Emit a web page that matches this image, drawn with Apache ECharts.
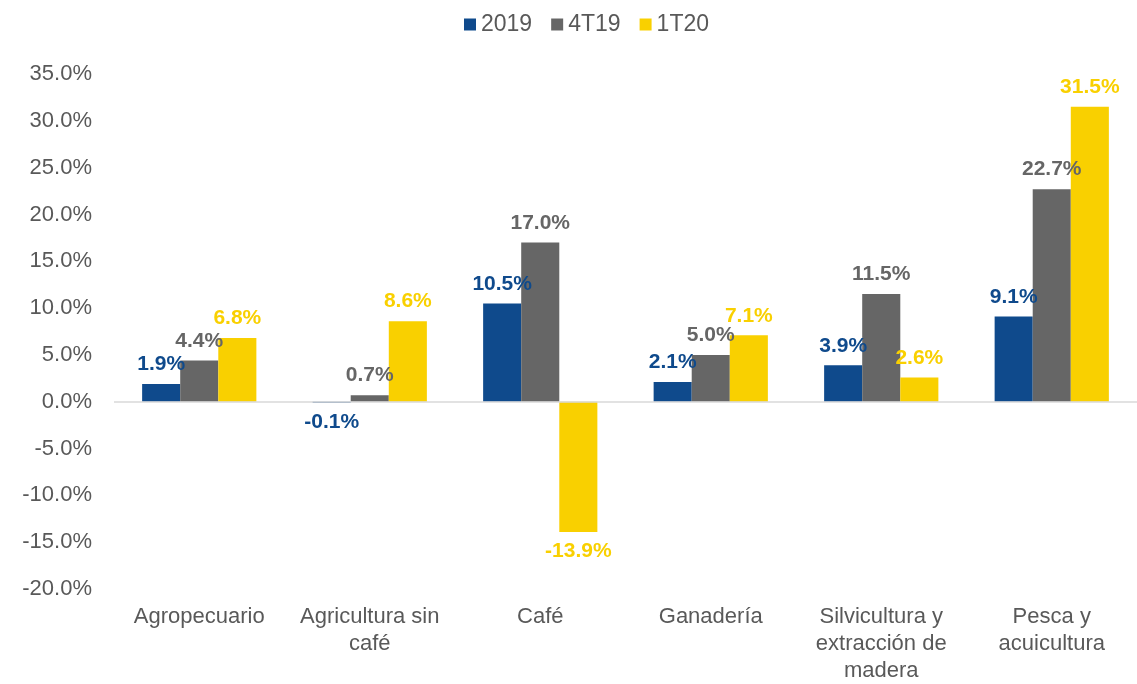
<!DOCTYPE html>
<html>
<head>
<meta charset="utf-8">
<script src="https://cdn.jsdelivr.net/npm/echarts@6/dist/echarts.min.js"></script>
<style>
    html, body { margin: 0; padding: 0; background: #fff; }
    #chart { width: 1137px; height: 684px; }
</style>
</head>
<body>
<div id="chart"></div>
<script>
var categories = ['Agropecuario', 'Agricultura sin\ncafé', 'Café', 'Ganadería', 'Silvicultura y\nextracción de\nmadera', 'Pesca y\nacuicultura'];
var seriesNames = ['2019', '4T19', '1T20'];
var values2019 = [1.9, -0.1, 10.5, 2.1, 3.9, 9.1];
var values4T19 = [4.4, 0.7, 17.0, 5.0, 11.5, 22.7];
var values1T20 = [6.8, 8.6, -13.9, 7.1, 2.6, 31.5];
var colors = ['#0F4A8C', '#666666', '#F9D000'];

/**
 * 一个柱状系列
 */
function barSeries(name, data, color, withZeroLine) {
    var s = {
        name: name,
        type: 'bar',
        data: data.map(function (v) {
            return {
                value: v,
                label: {position: v < 0 ? 'bottom' : 'top'}
            };
        }),
        barGap: '0%',
        barCategoryGap: '33%',
        itemStyle: {color: color},
        label: {
            show: true,
            distance: 9,
            color: color,
            fontFamily: 'Liberation Sans, Arial, sans-serif',
            fontWeight: 'bold',
            fontSize: 21,
            formatter: function (p) {
                return p.value.toFixed(1) + '%';
            }
        }
    };
    if (withZeroLine) {
        s.markLine = {
            silent: true,
            symbol: ['none', 'none'],
            label: {show: false},
            lineStyle: {color: '#D9D9D9', width: 1.5, type: 'solid'},
            data: [{yAxis: 0}]
        };
    }
    return s;
}

var myChart = echarts.init(document.getElementById('chart'));
var option = {
    animation: false,
    legend: {
        top: 8,
        left: 459,
        itemWidth: 12,
        itemHeight: 12,
        itemGap: 19,
        icon: 'rect',
        data: seriesNames,
        textStyle: {
            fontFamily: 'Liberation Sans, Arial, sans-serif',
            fontSize: 23,
            color: '#595959'
        }
    },
    grid: {
        left: 114,
        right: -6,
        top: 74,
        bottom: 94,
        containLabel: false
    },
    xAxis: {
        type: 'category',
        data: categories,
        axisLine: {show: false, onZero: false},
        axisTick: {show: false},
        axisLabel: {
            margin: 14,
            interval: 0,
            lineHeight: 27,
            fontFamily: 'Liberation Sans, Arial, sans-serif',
            fontSize: 22,
            color: '#595959'
        }
    },
    yAxis: {
        type: 'value',
        min: -20,
        max: 35,
        interval: 5,
        axisLine: {show: false},
        axisTick: {show: false},
        splitLine: {show: false},
        axisLabel: {
            margin: 22,
            fontFamily: 'Liberation Sans, Arial, sans-serif',
            fontSize: 22,
            color: '#595959',
            formatter: function (v) {
                return v.toFixed(1) + '%';
            }
        }
    },
    series: [
        barSeries(seriesNames[0], values2019, colors[0], true),
        barSeries(seriesNames[1], values4T19, colors[1], false),
        barSeries(seriesNames[2], values1T20, colors[2], false)
    ]
};
myChart.setOption(option, true);
</script>
</body>
</html>
